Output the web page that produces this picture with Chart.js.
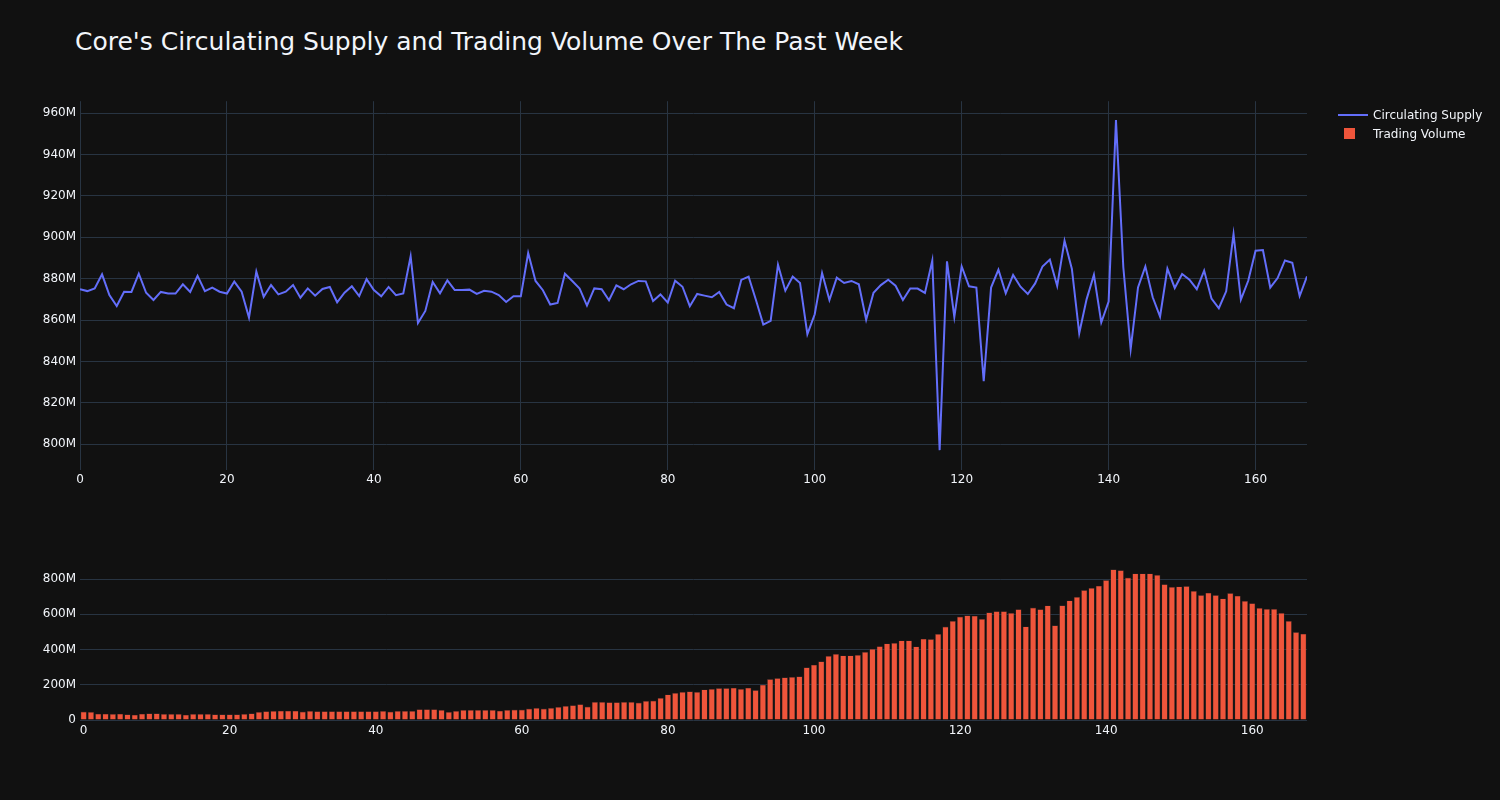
<!DOCTYPE html>
<html>
<head>
<meta charset="utf-8">
<script src="https://cdn.jsdelivr.net/npm/chart.js@4.4.1/dist/chart.umd.min.js"></script>
<style>
    body { margin: 0; background: #111111; width: 1500px; height: 800px; overflow: hidden; font-family: "DejaVu Sans", sans-serif; }
    #title { position: absolute; left: 75px; top: 27px; color: #f2f5fa; font-size: 25px; white-space: nowrap; }
    .box { position: absolute; left: 0; width: 1500px; }
    #legend { position: absolute; left: 1338px; top: 105px; color: #f2f5fa; font-size: 12px; }
    .item { height: 19px; display: flex; align-items: center; }
    .sym { width: 30px; margin-right: 5px; display: flex; justify-content: center; }
</style>
</head>
<body>
<div id="title">Core's Circulating Supply and Trading Volume Over The Past Week</div>
<div class="box" style="top:90px;height:410px"><canvas id="lineChart"></canvas></div>
<div class="box" style="top:550px;height:200px"><canvas id="barChart"></canvas></div>
<div id="legend">
    <div class="item"><span class="sym"><span style="display:block;width:30px;height:2px;background:#636efa"></span></span>Circulating Supply</div>
    <div class="item"><span class="sym"><span style="display:block;width:11px;height:11px;background:#ef553b;margin-left:-8px"></span></span>Trading Volume</div>
</div>
<script>
// hourly values over the week, in millions
const supply = [
    874.9, 874.0, 875.3, 882.1, 872.1, 866.8, 873.7, 873.6, 882.4, 873.2,
    869.7, 873.6, 872.8, 872.8, 877.3, 873.6, 881.4, 874.0, 875.7, 873.7,
    872.8, 878.6, 873.7, 861.2, 883.4, 871.2, 876.9, 872.4, 873.7, 876.9,
    870.8, 875.3, 871.8, 875.0, 876.0, 868.6, 873.2, 876.3, 871.6, 879.8,
    874.5, 871.5, 876.0, 872.0, 872.9, 890.8, 858.6, 864.4, 878.4, 872.9,
    879.2, 874.5, 874.5, 874.7, 872.6, 874.1, 873.7, 872.1, 868.7, 871.5,
    871.5, 892.4, 878.9, 874.4, 867.5, 868.3, 882.4, 878.9, 875.2, 867.0,
    875.3, 874.9, 869.6, 876.8, 874.9, 877.3, 878.9, 878.7, 869.2, 872.4,
    868.4, 879.0, 876.1, 866.7, 872.6, 871.8, 871.0, 873.6, 867.5, 865.7,
    879.4, 881.0, 869.7, 857.8, 859.6, 886.8, 874.2, 881.0, 877.9, 853.2,
    862.8, 882.7, 869.7, 880.5, 877.9, 878.9, 877.3, 860.2, 873.2, 876.9,
    879.5, 876.6, 869.7, 875.3, 875.2, 873.1, 888.7, 797.1, 888.4, 861.5,
    885.9, 876.3, 875.7, 830.4, 875.7, 884.3, 872.9, 881.8, 876.1, 872.6,
    877.7, 885.9, 889.2, 876.5, 898.3, 884.7, 853.6, 870.0, 881.9, 858.8,
    868.9, 956.7, 885.5, 845.9, 875.8, 885.9, 871.0, 861.7, 884.8, 875.5,
    882.3, 879.5, 874.9, 883.9, 870.4, 865.7, 873.9, 901.5, 869.9, 879.0,
    893.5, 893.8, 875.7, 880.3, 888.8, 887.7, 871.6, 881.1
];

const volume = [
    48, 46, 36, 36, 34, 36, 32, 30, 36, 38,
    38, 34, 34, 34, 30, 34, 34, 34, 32, 32,
    32, 32, 34, 38, 46, 50, 51, 53, 53, 53,
    48, 51, 50, 50, 50, 50, 50, 50, 50, 50,
    50, 51, 48, 51, 51, 51, 61, 61, 61, 57,
    46, 51, 57, 57, 57, 57, 57, 53, 57, 59,
    59, 65, 69, 65, 69, 74, 80, 84, 90, 76,
    103, 103, 101, 101, 103, 103, 99, 109, 110, 126,
    145, 154, 160, 163, 160, 173, 177, 181, 181, 183,
    177, 183, 170, 200, 232, 238, 242, 244, 248, 299,
    314, 333, 364, 375, 366, 366, 370, 387, 404, 419,
    434, 438, 451, 451, 417, 461, 459, 488, 530, 562,
    587, 594, 592, 573, 611, 617, 617, 608, 629, 531,
    638, 629, 650, 537, 651, 678, 699, 737, 750, 762,
    794, 855, 850, 808, 832, 832, 832, 823, 771, 756,
    758, 760, 733, 709, 722, 709, 690, 720, 705, 676,
    663, 636, 630, 630, 608, 562, 499, 490
];

const xTicks = [0, 20, 40, 60, 80, 100, 120, 140, 160];
const supplyTicks = [800, 820, 840, 860, 880, 900, 920, 940, 960];
const volumeTicks = [0, 200, 400, 600, 800];

const hours = supply.map((v, i) => i);

const gridColor = '#283442';
const tickColor = '#f2f5fa';
const tickFont = { family: 'DejaVu Sans', size: 12 };

Chart.defaults.animation = false;
Chart.defaults.color = tickColor;

new Chart(document.getElementById('lineChart'), {
    type: 'line',
    data: {
        datasets: [{
            label: 'Circulating Supply',
            data: hours.map(h => ({ x: h, y: supply[h] })),
            borderColor: '#636efa',
            borderWidth: 2,
            pointRadius: 0,
            tension: 0
        }]
    },
    options: {
        responsive: true,
        maintainAspectRatio: false,
        layout: { padding: { left: 0, right: 193, top: 10, bottom: 0 } },
        plugins: { legend: { display: false }, tooltip: { enabled: false } },
        scales: {
            x: {
                type: 'linear', min: 0, max: 167,
                grid: { color: gridColor, drawTicks: false },
                border: { display: false },
                ticks: { color: tickColor, font: tickFont, padding: 3 },
                afterBuildTicks: s => { s.ticks = xTicks.map(v => ({ value: v })); },
                afterFit: s => { s.height = 30; }
            },
            y: {
                min: 787.5, max: 965.8,
                grid: { color: gridColor, drawTicks: false },
                border: { display: false },
                ticks: { color: tickColor, font: tickFont, padding: 4, callback: v => v + 'M' },
                afterBuildTicks: s => { s.ticks = supplyTicks.map(v => ({ value: v })); },
                afterFit: s => { s.width = 80; }
            }
        }
    }
});

new Chart(document.getElementById('barChart'), {
    type: 'bar',
    data: {
        labels: hours,
        datasets: [{
            label: 'Trading Volume',
            data: volume,
            backgroundColor: '#ef553b',
            borderColor: '#3a2a28',
            borderWidth: 0.6,
            barPercentage: 0.86,
            categoryPercentage: 1
        }]
    },
    options: {
        responsive: true,
        maintainAspectRatio: false,
        layout: { padding: { left: 0, right: 193, top: 11.4, bottom: 0 } },
        plugins: { legend: { display: false }, tooltip: { enabled: false } },
        scales: {
            x: {
                grid: { display: false, drawTicks: false },
                border: { display: false },
                ticks: {
                    autoSkip: false, maxRotation: 0, color: tickColor, font: tickFont, padding: 4,
                    callback: (v, i) => (xTicks.includes(hours[i]) ? String(hours[i]) : '')
                },
                afterFit: s => { s.height = 30; }
            },
            y: {
                min: 0, max: 900,
                grid: { color: gridColor, drawTicks: false },
                border: { display: false },
                ticks: { color: tickColor, font: tickFont, padding: 4, callback: v => (v === 0 ? '0' : v + 'M') },
                afterBuildTicks: s => { s.ticks = volumeTicks.map(v => ({ value: v })); },
                afterFit: s => { s.width = 80; }
            }
        }
    }
});
</script>
</body>
</html>
